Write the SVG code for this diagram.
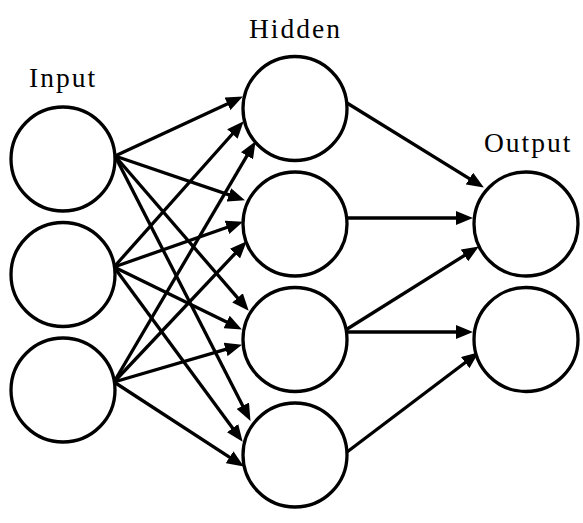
<svg xmlns="http://www.w3.org/2000/svg" width="583" height="523" viewBox="0 0 583 523">
<style>
.n{fill:#fff;stroke:#000;stroke-width:3.3}
.e{stroke:#000;stroke-width:3.3;fill:none;marker-end:url(#ah)}
.t{font-family:"Liberation Serif","Times New Roman",serif;font-size:27.5px;letter-spacing:2px;fill:#000}
</style>
<defs>
<marker id="ah" markerUnits="userSpaceOnUse" markerWidth="17" markerHeight="14" refX="8" refY="7" orient="auto">
<path d="M0,0 L17,7 L0,14 z" fill="#000"/>
</marker>
</defs>
<rect width="583" height="523" fill="#fff"/>
<g id="connectors">
<line class="e" x1="115" y1="156" x2="234.7" y2="100.4"/>
<line class="e" x1="115" y1="156" x2="236.4" y2="197.4"/>
<line class="e" x1="115" y1="156" x2="242.8" y2="303.9"/>
<line class="e" x1="115" y1="156" x2="246.4" y2="412.9"/>
<line class="e" x1="114" y1="267" x2="237.7" y2="128.0"/>
<line class="e" x1="114" y1="267" x2="234.5" y2="224.7"/>
<line class="e" x1="114" y1="267" x2="233.8" y2="325.5"/>
<line class="e" x1="114" y1="267" x2="237.3" y2="434.6"/>
<line class="e" x1="114" y1="382" x2="251.0" y2="148.9"/>
<line class="e" x1="114" y1="382" x2="240.5" y2="247.8"/>
<line class="e" x1="114" y1="382" x2="233.3" y2="347.2"/>
<line class="e" x1="114" y1="382" x2="236.3" y2="461.6"/>
<line class="e" x1="347" y1="103" x2="476.2" y2="182.8"/>
<line class="e" x1="346" y1="218" x2="464" y2="218"/>
<line class="e" x1="344" y1="331" x2="471.2" y2="251.2"/>
<line class="e" x1="344" y1="332" x2="464" y2="332"/>
<line class="e" x1="347" y1="452" x2="471.6" y2="357.8"/>
</g>
<g id="input1"><circle class="n" cx="63" cy="159" r="52"/></g>
<g id="input2"><circle class="n" cx="63" cy="274.5" r="52"/></g>
<g id="input3"><circle class="n" cx="63" cy="390" r="52"/></g>
<g id="hidden1"><circle class="n" cx="295" cy="108.5" r="52"/></g>
<g id="hidden2"><circle class="n" cx="295" cy="224" r="52"/></g>
<g id="hidden3"><circle class="n" cx="295" cy="339.5" r="52"/></g>
<g id="hidden4"><circle class="n" cx="295" cy="455" r="52"/></g>
<g id="output1"><circle class="n" cx="526" cy="224" r="52"/></g>
<g id="output2"><circle class="n" cx="526" cy="339.5" r="52"/></g>
<g id="labels">
<text class="t" x="29" y="87">Input</text>
<text class="t" x="249" y="38">Hidden</text>
<text class="t" x="484" y="152">Output</text>
</g>
</svg>
